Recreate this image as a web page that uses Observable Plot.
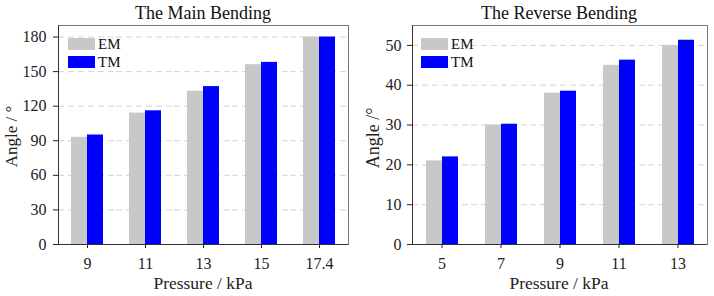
<!DOCTYPE html>
<html><head><meta charset="utf-8">
<script src="https://cdn.jsdelivr.net/npm/d3@7"></script>
<script src="https://cdn.jsdelivr.net/npm/@observablehq/plot@0.6"></script>
<style>
body{margin:0;background:#fff;}
#wrap{display:flex;width:714px;height:296px;overflow:hidden;}
.panel{position:relative;width:357px;height:296px;}
.title{position:absolute;top:4px;font:18px/18px "Liberation Serif";color:#111;text-align:center;white-space:nowrap;}
.xlabel{position:absolute;top:275px;font:17.5px/17px "Liberation Serif";color:#222;text-align:center;white-space:nowrap;}
.ylabel{position:absolute;width:120px;text-align:center;white-space:nowrap;color:#222;transform:rotate(-90deg);}
.legend{position:absolute;top:35px;font:15px/18px "Liberation Serif";color:#111;}
.legend .row{display:flex;align-items:center;height:18px;}
.legend .sw{width:27px;height:12px;margin-right:3px;}
</style>
</head><body>
<div id="wrap"></div>
<script>
const series = ["EM", "TM"];
const seriesColors = ["#c8c8c8", "#0000ff"];

const mainTitle = "The Main Bending";
const mainPressure = ["9", "11", "13", "15", "17.4"];
const mainEM = [93, 114, 133, 156, 180];
const mainTM = [95, 116, 137, 158, 180];
const mainTicks = [0, 30, 60, 90, 120, 150, 180];
const mainYLabel = "Angle / °";

const revTitle = "The Reverse Bending";
const revPressure = ["5", "7", "9", "11", "13"];
const revEM = [21, 30, 38, 45, 50];
const revTM = [22, 30.2, 38.5, 46.3, 51.3];
const revTicks = [0, 10, 20, 30, 40, 50];
const revYLabel = "Angle /°";

const xLabel = "Pressure / kPa";

function panel({title, pressure, em, tm, ticks, ymax, yLabel, marginLeft, marginRight, yTickPadding, yLabelX, yLabelY, yLabelSize}) {
  const rows = [];
  pressure.forEach((p, i) => {
    rows.push({p, s: "EM", v: em[i]});
    rows.push({p, s: "TM", v: tm[i]});
  });
  const W = 357, H = 296;
  const chart = Plot.plot({
    width: W, height: H,
    marginLeft, marginRight, marginTop: 25, marginBottom: 52,
    style: {fontFamily: "Liberation Serif", fontSize: "16px", color: "#222", background: "#fff"},
    fx: {domain: pressure, padding: 0},
    x: {domain: series, paddingInner: 0, paddingOuter: 0.79, axis: null},
    y: {domain: [0, ymax]},
    color: {domain: series, range: seriesColors},
    marks: [
      Plot.ruleY(ticks.filter(t => t > 0), {stroke: "#d4d4d4", strokeDasharray: "6,4"}),
      Plot.barY(rows, {fx: "p", x: "s", y: "v", fill: "s"}),
      Plot.frame({facet: "super", stroke: "#777"}),
      Plot.frame({facet: "super", anchor: "left", stroke: "#333"}),
      Plot.ruleY([0], {stroke: "#333"}),
      Plot.axisY({ticks, tickSize: 5, tickPadding: yTickPadding, fontSize: 16, label: null}),
      Plot.axisFx({anchor: "bottom", tickSize: 4, tickPadding: 9, fontSize: 16, label: null})
    ]
  });
  const div = document.createElement("div");
  div.className = "panel";
  div.appendChild(chart);
  const plotW = W - marginLeft - marginRight;

  const t = document.createElement("div");
  t.className = "title";
  t.textContent = title;
  t.style.left = marginLeft + "px";
  t.style.width = plotW + "px";
  div.appendChild(t);

  const xl = document.createElement("div");
  xl.className = "xlabel";
  xl.textContent = xLabel;
  xl.style.left = marginLeft + "px";
  xl.style.width = plotW + "px";
  div.appendChild(xl);

  const yl = document.createElement("div");
  yl.className = "ylabel";
  yl.textContent = yLabel;
  yl.style.font = `${yLabelSize}px/${yLabelSize}px "Liberation Serif"`;
  yl.style.left = (yLabelX - 60) + "px";
  yl.style.top = (yLabelY - yLabelSize / 2) + "px";
  div.appendChild(yl);

  const lg = document.createElement("div");
  lg.className = "legend";
  lg.style.left = (marginLeft + 11) + "px";
  series.forEach((s, i) => {
    const r = document.createElement("div");
    r.className = "row";
    r.innerHTML = `<div class="sw" style="background:${seriesColors[i]}"></div><span>${s}</span>`;
    lg.appendChild(r);
  });
  div.appendChild(lg);
  return div;
}

const wrap = document.getElementById("wrap");
wrap.appendChild(panel({title: mainTitle, pressure: mainPressure, em: mainEM, tm: mainTM, ticks: mainTicks, ymax: 190, yLabel: mainYLabel, marginLeft: 57, marginRight: 8, yTickPadding: 7, yLabelX: 10.5, yLabelY: 136, yLabelSize: 17}));
wrap.appendChild(panel({title: revTitle, pressure: revPressure, em: revEM, tm: revTM, ticks: revTicks, ymax: 55, yLabel: revYLabel, marginLeft: 53, marginRight: 6, yTickPadding: 6, yLabelX: 16, yLabelY: 137.5, yLabelSize: 18}));
</script>
</body></html>
